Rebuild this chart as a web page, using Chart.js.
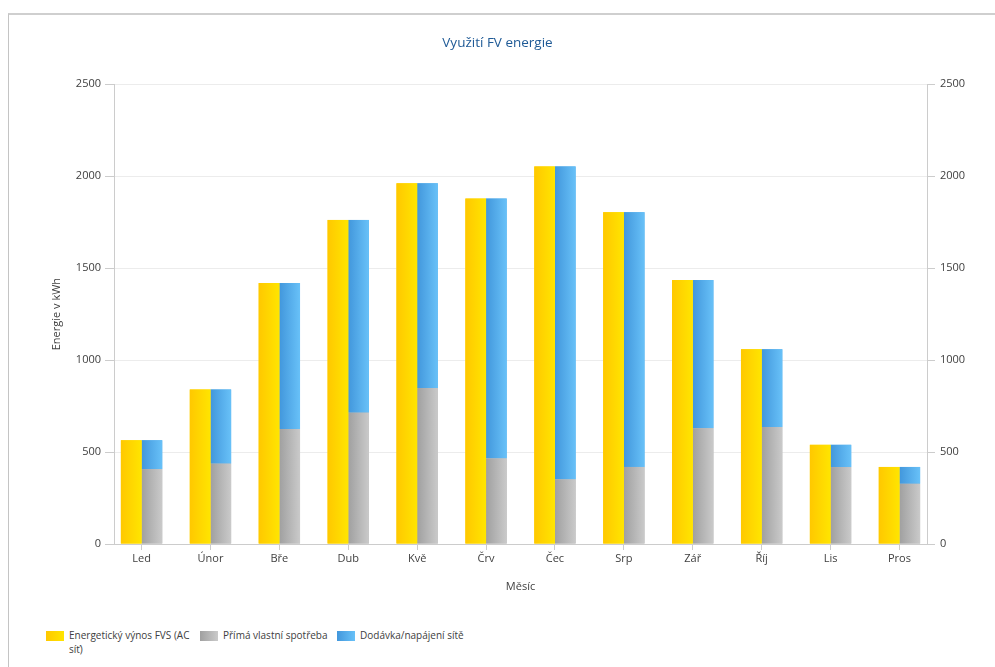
<!DOCTYPE html>
<html>
<head>
<meta charset="utf-8">
<script src="https://cdn.jsdelivr.net/npm/chart.js@4.4.1/dist/chart.umd.min.js"></script>
<style>
  body { margin: 0; background: #fff; font-family: "Open Sans", sans-serif; }
  #frame { position: absolute; left: 8px; top: 13px; right: 0; bottom: 0; border-top: 2px solid #cfcfcf; border-left: 1px solid #c4c4c4; }
  #wrap { position: absolute; left: 0; top: 0; width: 995px; height: 600px; }
  #legend { position: absolute; left: 46px; top: 628px; width: 600px; display: flex; font-size: 10px; color: #404040; line-height: 14px; }
  .item { display: flex; align-items: flex-start; flex: none; }
  .box { width: 18px; height: 10px; margin-top: 3px; margin-right: 5px; flex: none; }
</style>
</head>
<body>
<div id="frame"></div>
<div id="wrap"><canvas id="myChart"></canvas></div>
<div id="legend"></div>
<script>
// mesice a hodnoty v kWh
const months = ['Led', 'Únor', 'Bře', 'Dub', 'Kvě', 'Črv', 'Čec', 'Srp', 'Zář', 'Říj', 'Lis', 'Pros'];
const vynos = [564, 840, 1419, 1762, 1961, 1878, 2053, 1804, 1435, 1059, 539, 419];
const spotreba = [407, 437, 625, 714, 848, 465, 351, 419, 629, 636, 418, 327];
const dodavka = [157, 403, 794, 1048, 1113, 1413, 1702, 1385, 806, 423, 121, 92];
const yTicks = [0, 500, 1000, 1500, 2000, 2500];

const toPoints = arr => arr.map((v, i) => ({ x: i, y: v }));

// prekresli sloupce s prechodem barvy zleva doprava
const gradientBars = {
    id: 'gradientBars',
    afterDatasetDraw(chart, args) {
        const ctx = chart.ctx;
        const colors = chart.data.datasets[args.index].gradient;
        ctx.save();
        args.meta.data.forEach(bar => {
            const p = bar.getProps(['x', 'y', 'base', 'width'], true);
            const left = p.x - p.width / 2;
            const g = ctx.createLinearGradient(left, 0, left + p.width, 0);
            g.addColorStop(0, colors[0]);
            g.addColorStop(1, colors[1]);
            ctx.fillStyle = g;
            ctx.fillRect(left, Math.min(p.y, p.base), p.width, Math.abs(p.base - p.y));
        });
        ctx.restore();
    }
};

const axisColor = '#cccccc';
const textColor = '#404040';
const tickFont = { family: 'Open Sans', size: 11 };

var ctx = document.getElementById('myChart').getContext('2d');
var chart = new Chart(ctx, {
    type: 'bar',
    data: {
        datasets: [
            {
                label: 'Energetický výnos FVS (AC síť)',
                data: toPoints(vynos),
                backgroundColor: '#ffd500',
                gradient: ['#ffc800', '#ffe500'],
                stack: 'vynos'
            },
            {
                label: 'Přímá vlastní spotřeba',
                data: toPoints(spotreba),
                backgroundColor: '#b5b5b5',
                gradient: ['#a0a0a0', '#cacaca'],
                stack: 'spotreba'
            },
            {
                label: 'Dodávka/napájení sítě',
                data: toPoints(dodavka),
                backgroundColor: '#55aeea',
                gradient: ['#4297dc', '#68c1f8'],
                stack: 'spotreba'
            }
        ]
    },
    options: {
        responsive: true,
        maintainAspectRatio: false,
        animation: false,
        categoryPercentage: 0.6,
        barPercentage: 1,
        layout: { padding: { left: 8, right: 8, top: 0, bottom: 0 } },
        plugins: {
            legend: { display: false },
            tooltip: { enabled: false },
            title: {
                display: true,
                text: 'Využití FV energie',
                color: '#1f5a96',
                font: { family: 'Open Sans', size: 13.5, weight: 'normal' },
                padding: { top: 35, bottom: 33 }
            }
        },
        scales: {
            x: {
                type: 'linear',
                min: -0.4,
                max: 11.4,
                offset: false,
                afterFit: s => { s.height = 56; },
                grid: { offset: false, drawOnChartArea: false, tickLength: 6, tickColor: axisColor },
                border: { color: axisColor },
                ticks: {
                    stepSize: 1,
                    includeBounds: false,
                    autoSkip: false,
                    maxRotation: 0,
                    padding: 2,
                    color: textColor,
                    font: tickFont,
                    callback: v => months[v] || ''
                },
                title: { display: true, text: 'Měsíc', color: textColor, font: tickFont, padding: { top: 10, bottom: 6.4 } }
            },
            y: {
                stacked: true,
                min: 0,
                max: 2500,
                position: 'left',
                afterFit: s => { s.width = 106; },
                afterBuildTicks: s => { s.ticks = yTicks.map(v => ({ value: v })); },
                grid: { color: '#ececec', tickLength: 9, tickColor: axisColor },
                border: { color: axisColor },
                ticks: { padding: 4, color: textColor, font: tickFont, callback: v => String(v) },
                title: { display: true, text: 'Energie v kWh', color: textColor, font: tickFont, padding: { top: 42.4, bottom: 0 } }
            },
            y2: {
                min: 0,
                max: 2500,
                position: 'right',
                afterFit: s => { s.width = 60; },
                afterBuildTicks: s => { s.ticks = yTicks.map(v => ({ value: v })); },
                grid: { drawOnChartArea: false, tickLength: 8, tickColor: axisColor },
                border: { color: axisColor },
                ticks: { padding: 5, color: textColor, font: tickFont, callback: v => String(v) }
            }
        }
    },
    plugins: [gradientBars]
});

// legenda pod grafem
const itemWidths = [154, 137, 180];
const legend = document.getElementById('legend');
chart.data.datasets.forEach((ds, i) => {
    const item = document.createElement('div');
    item.className = 'item';
    item.style.width = itemWidths[i] + 'px';
    const box = document.createElement('span');
    box.className = 'box';
    box.style.background = 'linear-gradient(to right, ' + ds.gradient[0] + ', ' + ds.gradient[1] + ')';
    const text = document.createElement('span');
    text.textContent = ds.label;
    if (i === 0) text.style.width = '126px';
    else text.style.whiteSpace = 'nowrap';
    item.appendChild(box);
    item.appendChild(text);
    legend.appendChild(item);
});
</script>
</body>
</html>
